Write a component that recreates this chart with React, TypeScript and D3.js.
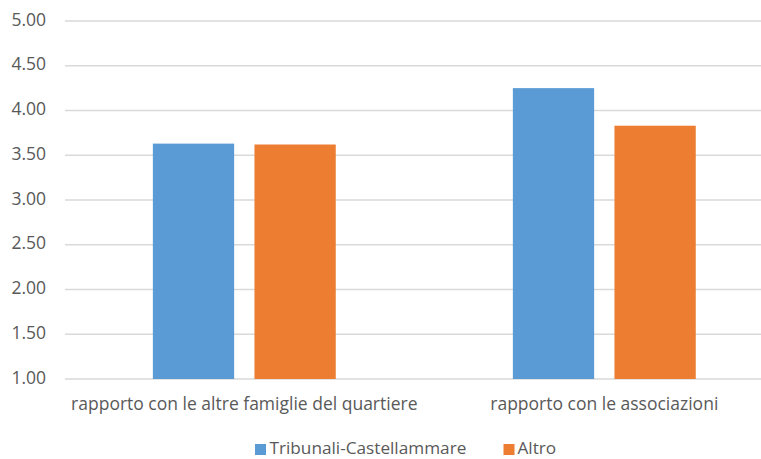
import React from "react";
import * as d3 from "d3";

const categories = [
  "rapporto con le altre famiglie del quartiere",
  "rapporto con le associazioni",
];
const seriesNames = ["Tribunali-Castellammare", "Altro"];
const tribunaliValues = [3.63, 4.25];
const altroValues = [3.62, 3.83];
const yTicks = [1.0, 1.5, 2.0, 2.5, 3.0, 3.5, 4.0, 4.5, 5.0];
const seriesColors = ["#5B9BD5", "#ED7D31"];

const W = 761;
const H = 459;
const FONT = "'Open Sans', sans-serif";
const TEXT = "#595959";

export default function App() {
  const values = [tribunaliValues, altroValues];

  const x0 = d3.scaleBand<string>().domain(categories).range([64.3, 784.3]);
  const groupW = x0.bandwidth() * 0.508;
  const x1 = d3
    .scaleBand<string>()
    .domain(seriesNames)
    .range([0, groupW])
    .paddingInner(0.2)
    .paddingOuter(0);
  const y = d3.scaleLinear().domain([1, 5]).range([379, 21]);

  return (
    <svg
      width={W}
      height={H}
      style={{ position: "absolute", left: 0, top: 0, background: "#fff" }}
      fontFamily={FONT}
    >
      {/* horizontal gridlines */}
      {yTicks.map((t) => (
        <line
          key={`g${t}`}
          x1={65}
          x2={W}
          y1={y(t)}
          y2={y(t)}
          stroke="#d9d9d9"
          strokeWidth={1.6}
        />
      ))}
      {/* y tick labels */}
      {yTicks.map((t) => (
        <text
          key={`t${t}`}
          x={46}
          y={y(t)}
          textAnchor="end"
          dominantBaseline="middle"
          fontSize={17.5}
          fill={TEXT}
        >
          {d3.format(".2f")(t)}
        </text>
      ))}
      {/* bars */}
      {categories.map((c, ci) => {
        const gx = (x0(c) ?? 0) + (x0.bandwidth() - groupW) / 2;
        return (
          <g key={c} transform={`translate(${gx},0)`}>
            {seriesNames.map((s, si) => (
              <rect
                key={s}
                x={x1(s)}
                y={y(values[si][ci])}
                width={x1.bandwidth()}
                height={y(1) - y(values[si][ci])}
                fill={seriesColors[si]}
              />
            ))}
          </g>
        );
      })}
      {/* category labels */}
      {categories.map((c) => (
        <text
          key={`c${c}`}
          x={(x0(c) ?? 0) + x0.bandwidth() / 2}
          y={410}
          textAnchor="middle"
          fontSize={17.5}
          fill={TEXT}
        >
          {c}
        </text>
      ))}
      {/* legend */}
      <g>
        <rect x={255} y={444} width={11} height={11} fill={seriesColors[0]} />
        <text x={269.5} y={454} fontSize={17.2} fill={TEXT}>
          {seriesNames[0]}
        </text>
        <rect x={503.5} y={444} width={11} height={11} fill={seriesColors[1]} />
        <text x={517.5} y={454} fontSize={17.2} fill={TEXT}>
          {seriesNames[1]}
        </text>
      </g>
    </svg>
  );
}
